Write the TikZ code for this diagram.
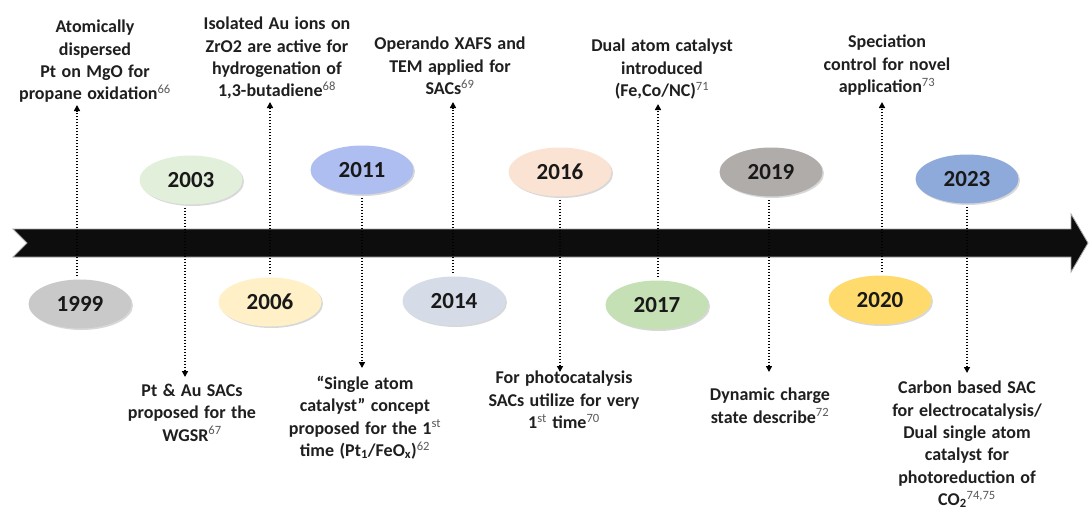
\documentclass[tikz,border=0pt]{standalone}
\usepackage{fontspec}
\setmainfont{Carlito}
\usetikzlibrary{shapes.geometric,arrows.meta,shadows}
\newcommand\refsup[1]{\textsuperscript{\mdseries\color{black!65}#1}}
\newcommand\lowsub[1]{\textsubscript{#1}}
\newcommand\widerspaces{\spaceskip 0.3em plus 0.1em\relax}
\definecolor{c1999}{HTML}{C9C9C9}
\definecolor{c2003}{HTML}{E2EFDA}
\definecolor{c2006}{HTML}{FFF0C8}
\definecolor{c2011}{HTML}{AEBEF0}
\definecolor{c2014}{HTML}{D5DCE8}
\definecolor{c2016}{HTML}{FBE3D3}
\definecolor{c2017}{HTML}{C5E0B4}
\definecolor{c2019}{HTML}{B0ACAA}
\definecolor{c2020}{HTML}{FFDB6E}
\definecolor{c2023}{HTML}{8EAADB}
\begin{document}
\begin{tikzpicture}[x=1pt,y=-1pt,
  year/.style={ellipse, minimum width=103pt, minimum height=49pt, inner sep=0pt,
    font=\fontsize{23}{27}\selectfont\bfseries, text=black!90,
    drop shadow={opacity=0.3, shadow xshift=1.5pt, shadow yshift=-1.5pt}},
  note/.style={align=center, anchor=north, inner sep=0pt,
    font=\fontsize{18}{22.3}\selectfont\bfseries\widerspaces, text=black!88},
  conn/.style={line width=1.6pt, dash pattern=on 1.6pt off 1.4pt, black,
    -{Triangle[length=6pt,width=6pt]}},
]
\useasboundingbox (0,0) rectangle (1089,506);
\fill[white] (0,0) rectangle (1089,506);

% timeline band
\filldraw[fill=black!95, draw=black!35, line width=0.8pt]
  (13,229) -- (1071,229) -- (1071,214) -- (1088,243) -- (1071,272)
  -- (1071,257) -- (13,257) -- (27,243) -- cycle;

% year ellipses
\node[year, fill=c1999] (y1999) at (80,304) {1999};
\node[year, fill=c2003] (y2003) at (191,180) {2003};
\node[year, fill=c2006] (y2006) at (270,302) {2006};
\node[year, fill=c2011] (y2011) at (362,170) {2011};
\node[year, fill=c2014] (y2014) at (454,301) {2014};
\node[year, fill=c2016] (y2016) at (560,172) {2016};
\node[year, fill=c2017] (y2017) at (657,305) {2017};
\node[year, fill=c2019] (y2019) at (771,172) {2019};
\node[year, fill=c2020] (y2020) at (880,300) {2020};
\node[year, fill=c2023] (y2023) at (967,179) {2023};

% notes above
\node[note] (t1999) at (95,20) {Atomically\\dispersed\\Pt on MgO  for\\propane oxidation\refsup{66}};
\node[note] (t2006) at (277,17) {Isolated Au ions on\\ZrO2 are active for\\hydrogenation  of\\1,3-butadiene\refsup{68}};
\node[note] (t2014) at (450,37) {Operando  XAFS and\\TEM applied  for\\SACs\refsup{69}};
\node[note] (t2017) at (662,39) {Dual atom  catalyst\\introduced\\(Fe,Co/NC)\refsup{71}};
\node[note] (t2020) at (887,35) {Speciation\\control  for novel\\application\refsup{73}};

% notes below
\node[note] (t2003) at (192,384) {Pt \& Au SACs\\proposed  for the\\WGSR\refsup{67}};
\node[note] (t2011) at (365,376) {“Single atom\\catalyst” concept\\proposed  for the 1\refsup{st}\\time (Pt\lowsub{1}/FeO\lowsub{x})\refsup{62}};
\node[note] (t2016) at (564,371) {For photocatalysis\\SACs utilize for very\\1\refsup{st} time\refsup{70}};
\node[note] (t2019) at (770,388) {Dynamic charge\\state describe\refsup{72}};
\node[note] (t2023) at (967,381) {Carbon  based SAC\\for electrocatalysis/\\Dual single atom\\catalyst for\\photoreduction  of\\CO\lowsub{2}\refsup{74,75}};

% arrow end points
\coordinate (a1999) at (77,105);
\coordinate (a2003) at (185,377);
\coordinate (a2006) at (270,102);
\coordinate (a2011) at (362,368);
\coordinate (a2014) at (453,102);
\coordinate (a2016) at (560,372);
\coordinate (a2017) at (658,104);
\coordinate (a2019) at (769,372);
\coordinate (a2020) at (882,102);
\coordinate (a2023) at (967,373);

% connectors
\draw[conn, shorten <=3pt] (y1999.north -| a1999) -- (a1999);
\draw[conn, shorten <=3pt] (y2003.south -| a2003) -- (a2003);
\draw[conn, shorten <=3pt] (y2006.north -| a2006) -- (a2006);
\draw[conn, shorten <=3pt] (y2011.south -| a2011) -- (a2011);
\draw[conn, shorten <=3pt] (y2014.north -| a2014) -- (a2014);
\draw[conn, shorten <=3pt] (y2016.south -| a2016) -- (a2016);
\draw[conn, shorten <=3pt] (y2017.north -| a2017) -- (a2017);
\draw[conn, shorten <=3pt] (y2019.south -| a2019) -- (a2019);
\draw[conn, shorten <=3pt] (y2020.north -| a2020) -- (a2020);
\draw[conn, shorten <=3pt] (y2023.south -| a2023) -- (a2023);
\end{tikzpicture}
\end{document}
